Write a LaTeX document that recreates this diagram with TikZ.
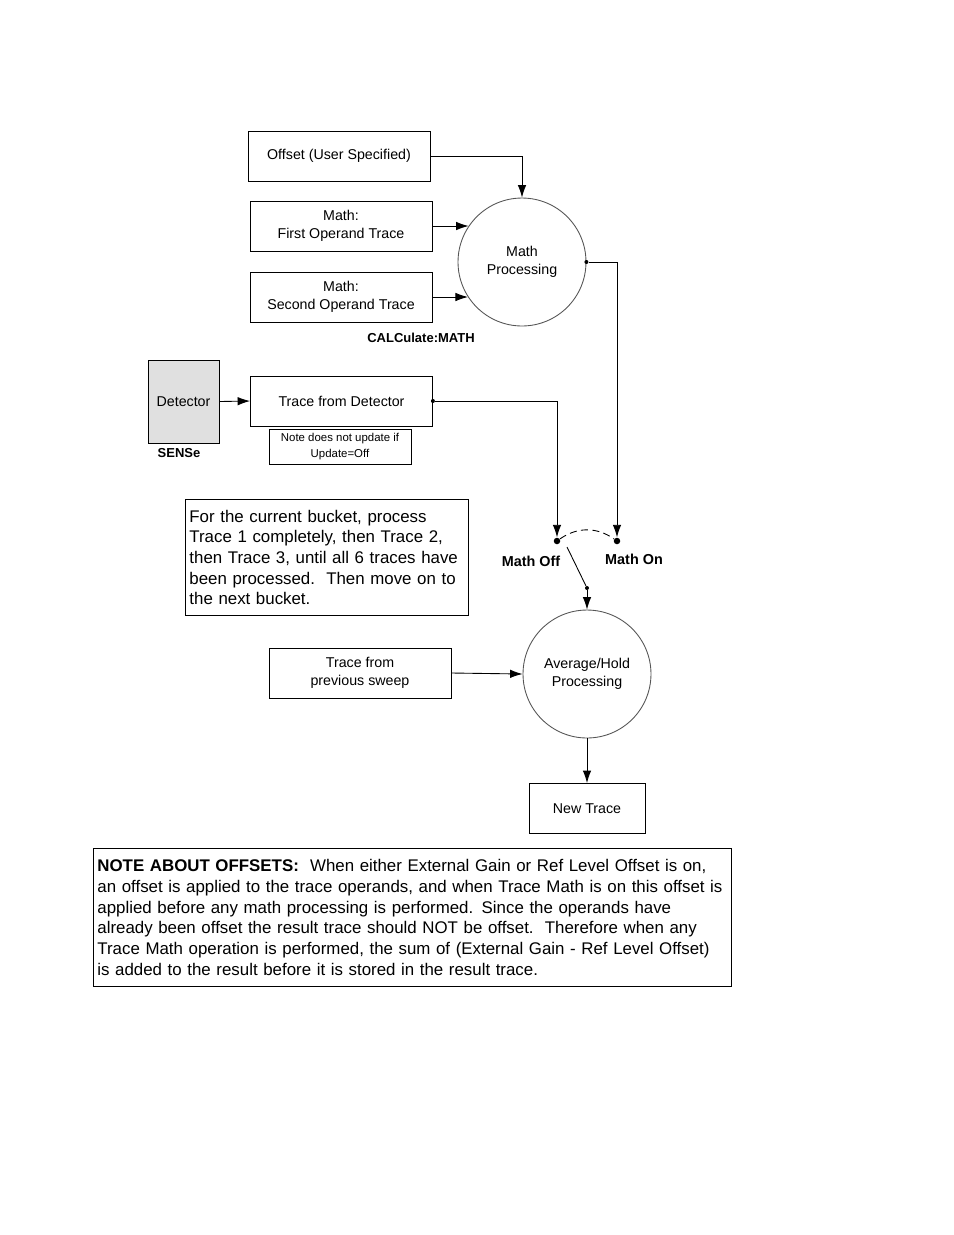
\documentclass[tikz,border=0pt]{standalone}
\usepackage{fontspec}
\setmainfont{Liberation Sans}
\usetikzlibrary{arrows.meta,positioning,calc}
\definecolor{detgray}{HTML}{E0E0E0}
\definecolor{circgray}{HTML}{555555}

\begin{document}
\begin{tikzpicture}[
		x=0.02cm,
		y=0.02cm,
		>=Latex,
		line width=0.5pt,
		box/.style={draw,minimum width=3.64cm,minimum height=1.0cm,align=center,font=\fontsize{8.1}{10.2}\selectfont},
		proc/.style={circle,draw=circgray,minimum size=2.56cm,inner sep=0pt,align=center,font=\fontsize{8.1}{10.2}\selectfont},
		smallnote/.style={draw,minimum width=2.84cm,minimum height=0.7cm,align=center,inner sep=1pt,font=\fontsize{6.5}{9.4}\selectfont},
		textbox/.style={draw,anchor=north west,align=left,inner sep=0.08cm,font=\fontsize{9.6}{11.8}\selectfont},
		tag/.style={font=\bfseries\fontsize{7.4}{9}\selectfont},
		swtag/.style={font=\bfseries\fontsize{8.2}{9}\selectfont},
		swdot/.style={circle,fill,inner sep=0pt,minimum size=1.3mm},
		jdot/.style={circle,fill,inner sep=0pt,minimum size=0.8mm},
		flow/.style={-{Latex[length=2.5mm,width=1.7mm]}}
	]
	
	% Page frame
	\useasboundingbox (0,0) rectangle (954,-1235);
	
	% Math inputs
	\node[box] (offset) at (339,-156) {Offset (User Specified)};
	\node[box] (firstop) at (341,-226) {Math:\\First Operand Trace};
	\node[box] (secondop) at (341,-297) {Math:\\Second Operand Trace};
	\node[proc] (mathproc) at (522,-262) {Math\\Processing};
	\node[tag] at (421,-338) {CALCulate:MATH};
	
	% Detector path
	\node[draw,fill=detgray,minimum width=1.42cm,minimum height=1.66cm,font=\fontsize{8.1}{10.2}\selectfont] (detector) at (183.5,-401.5) {Detector};
	\node[tag] (sense) at (179,-453) {SENSe};
	\node[box] (tracedet) at (341.5,-401) {Trace from Detector};
	\node[smallnote] (updnote) at (340,-446.5) {Note does not update if\\Update=Off};
	
	% Explanation
	\node[textbox,text width=5.5cm,minimum height=2.32cm] (bucket) at (185,-499)
	{For the current bucket, process\\Trace 1 completely, then Trace 2,\\then Trace 3, until all 6 traces have\\been processed.\ \ Then move on to\\the next bucket.};
	
	% Switch
	\node[swdot] (mathoff) at (557,-541) {};
	\node[swdot] (mathon) at (617,-541) {};
	\node[swtag,anchor=north] at (531,-550) {Math Off};
	\node[swtag,anchor=north] at (634,-548) {Math On};
	\coordinate (swpivot) at (567,-547);
	\node[jdot] (swend) at (587,-588) {};
	
	% Trace processing
	\node[proc] (avghold) at (587,-674) {Average/Hold\\Processing};
	\node[box] (prevsweep) at (360,-673) {Trace from\\previous sweep};
	\node[box,minimum width=2.32cm] (newtrace) at (587,-808.5) {New Trace};
	
	% Connectors
	\draw[flow] (offset.east) -| (mathproc.north);
	\draw[flow] (firstop.east) -- (firstop.east -| mathproc.146);
	\draw[flow] (secondop.east) -- (secondop.east -| mathproc.213);
	\node[jdot] (mathout) at (mathproc.east) {};
	\draw[flow] (mathout) -| (mathon);
	\draw[flow] (detector.east) -- (tracedet.west);
	\node[jdot] (detout) at (tracedet.east) {};
	\draw[flow] (detout) -| (mathoff);
	\draw[dashed,dash pattern=on 4pt off 2.5pt] (mathoff) to[out=35,in=145] (mathon);
	\draw (swpivot) -- (swend);
	\draw[flow] (swend) -- (avghold.north);
	\draw[flow] (prevsweep.east) -- (avghold.west);
	\draw[flow] (avghold.south) -- (newtrace.north);
	
	% Offsets note
	\node[textbox,text width=12.6cm,minimum height=2.76cm] (offsetnote) at (93,-848)
	{\textbf{NOTE ABOUT OFFSETS:}\ \ When either External Gain or Ref Level Offset is on,\\an offset is applied to the trace operands, and when Trace Math is on this offset is\\applied before any math processing is performed. Since the operands have\\already been offset the result trace should NOT be offset.\ \ Therefore when any\\Trace Math operation is performed, the sum of (External Gain - Ref Level Offset)\\is added to the result before it is stored in the result trace.};
	
\end{tikzpicture}
\end{document}
